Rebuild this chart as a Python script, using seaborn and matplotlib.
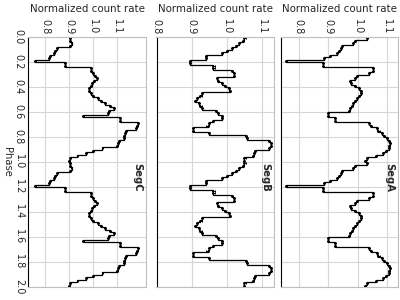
import numpy as np
import pandas as pd
import matplotlib
matplotlib.use("Agg")
import matplotlib.pyplot as plt
import matplotlib.transforms as mtransforms
import seaborn as sns

# folded light curve, 50 phase bins per cycle (shown twice)
n_bins = 50
phase_ticks = [0.0, 0.2, 0.4, 0.6, 0.8, 1.0, 1.2, 1.4, 1.6, 1.8, 2.0]
rate_ticks = [0.8, 0.9, 1.0, 1.1]

seg_c = [0.905, 0.905, 0.91, 0.905, 0.85, 0.84, 0.835, 0.82, 0.815, 0.757,
         0.884, 0.884, 0.99, 0.993, 1.0, 1.01, 1.017, 1.005, 0.995, 0.99,
         0.982, 0.982, 0.99, 1.0, 1.02, 1.035, 1.05, 1.07, 1.09, 1.068,
         1.065, 0.96, 1.115, 1.115, 1.19, 1.185, 1.18, 1.14, 1.135, 1.13,
         1.13, 1.11, 1.105, 1.1, 1.04, 1.0, 0.97, 0.935, 0.905, 0.9]
seg_b = [1.05, 1.045, 1.035, 1.025, 1.015, 1.0, 0.985, 0.94, 0.94, 0.895,
         0.895, 0.962, 0.962, 1.015, 1.02, 1.02, 0.972, 0.975, 0.985, 0.995,
         1.005, 1.008, 0.93, 0.925, 0.915, 0.91, 0.92, 0.925, 0.93, 0.97,
         0.975, 0.985, 0.985, 0.96, 0.95, 0.945, 0.905, 0.905, 0.948, 1.055,
         1.058, 1.12, 1.125, 1.125, 1.12, 1.08, 1.078, 1.075, 1.05, 1.048]
seg_a = [1.03, 0.99, 0.985, 0.948, 0.942, 0.935, 0.928, 0.905, 0.885, 0.758,
         0.883, 0.883, 1.05, 1.05, 1.037, 0.997, 0.99, 0.975, 0.978, 0.99,
         1.003, 1.012, 1.01, 1.003, 0.997, 0.99, 0.985, 0.98, 0.975, 0.97,
         0.9, 0.9, 0.923, 0.923, 1.037, 1.045, 1.066, 1.07, 1.083, 1.09,
         1.1, 1.106, 1.108, 1.106, 1.104, 1.095, 1.085, 1.06, 1.03, 1.025]
seg_err = {"SegC": 0.004, "SegB": 0.003, "SegA": 0.0035}

sns.set_style("whitegrid", {"grid.color": ".84", "axes.edgecolor": ".75"})
plt.rcParams["font.family"] = ["DejaVu Sans"]

fig = plt.figure(figsize=(4, 3), dpi=100)
W, H = 400.0, 300.0
top, bottom = 37, 287
panels = [
    ("SegC", seg_c, 28, 146, (0.727, 1.223)),
    ("SegB", seg_b, 156.5, 274, (0.8, 1.134)),
    ("SegA", seg_a, 280.7, 398, (0.739, 1.136)),
]

edges = np.linspace(0, 2, 2 * n_bins + 1)
centers = (edges[:-1] + edges[1:]) / 2

for i, (name, seg, x0, x1, xlim) in enumerate(panels):
    ax = fig.add_axes([x0 / W, 1 - bottom / H, (x1 - x0) / W, (bottom - top) / H])
    vals = np.tile(seg, 2)
    df = pd.DataFrame({"rate": np.repeat(vals, 2), "phase": np.repeat(edges, 2)[1:-1]})
    sns.lineplot(data=df, x="rate", y="phase", sort=False, estimator=None,
                 color="k", lw=0.9, ax=ax)
    ax.errorbar(vals, centers, xerr=seg_err[name], fmt="none", ecolor="k",
                elinewidth=0.7, capsize=1.0, capthick=0.7)

    ax.set_ylim(2, 0)
    ax.set_xlim(*xlim)
    ax.set_xticks(rate_ticks)
    ax.xaxis.tick_top()
    ax.xaxis.set_label_position("top")
    ax.set_xlabel("Normalized count rate", fontsize=7.4, labelpad=5)
    ax.tick_params(axis="x", labelrotation=-90, labelsize=7, pad=2, length=0)
    ax.set_yticks(phase_ticks)
    ax.tick_params(axis="y", direction="in", length=3, color="k", width=0.8, pad=3)
    if i == 0:
        ax.set_yticklabels([f"{t:.1f}" for t in phase_ticks], rotation=-90,
                           fontsize=7, va="center")
        ax.set_ylabel("Phase", rotation=-90, fontsize=7.2, va="center")
        ax.yaxis.set_label_coords(-0.18, 0.5)
    else:
        ax.set_yticklabels([])
        ax.set_ylabel("")
    ax.spines["left"].set_color("k")
    ax.spines["left"].set_linewidth(0.8)

    trans = mtransforms.blended_transform_factory(ax.transAxes, ax.transData)
    ax.text(0.97, 1.01, name, transform=trans, rotation=-90, fontsize=7.2,
            fontweight="bold", ha="right", va="top")

fig.savefig("out.png", dpi=100)
plt.close(fig)
